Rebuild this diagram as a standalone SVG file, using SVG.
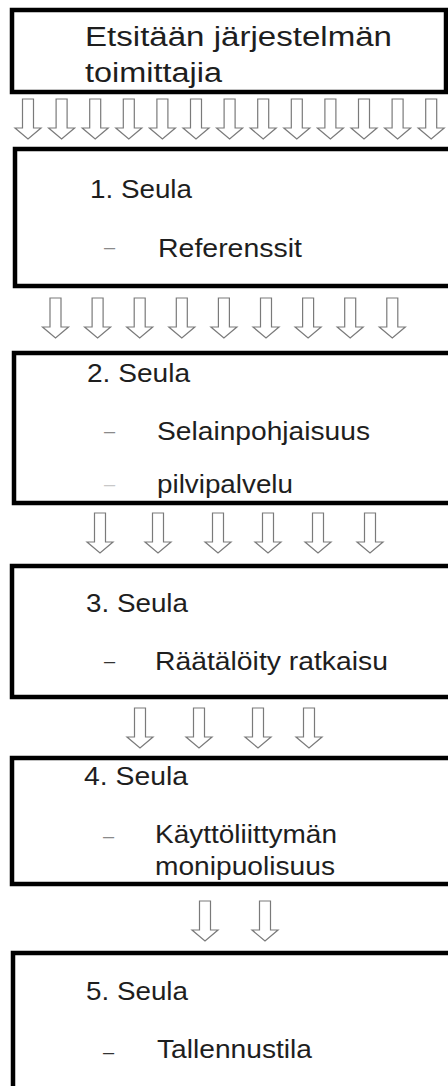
<svg xmlns="http://www.w3.org/2000/svg" xmlns:xlink="http://www.w3.org/1999/xlink" width="448" height="1086" viewBox="0 0 448 1086">
<style>
.box{fill:#fff;stroke:#000;stroke-width:4.5}
.t{font-family:"Liberation Sans",Arial,sans-serif;font-size:26px;fill:#1e1e1e}
.d{font-family:"Liberation Sans",Arial,sans-serif;font-size:20px}
.arr{fill:#fff;stroke:#7a7a7a;stroke-width:1.2;stroke-linejoin:miter}
</style>
<defs>
<path id="a" class="arr" d="M-5.5,0 H5.5 V29 H13 L0,40 L-13,29 H-5.5 Z"/>
</defs>
<rect width="448" height="1086" fill="#fff"/>
<g id="connectors">
<g id="row1">
<use xlink:href="#a" x="28" y="99"/><use xlink:href="#a" x="61.6" y="99"/><use xlink:href="#a" x="95.2" y="99"/><use xlink:href="#a" x="128.8" y="99"/><use xlink:href="#a" x="162.4" y="99"/><use xlink:href="#a" x="196" y="99"/><use xlink:href="#a" x="229.6" y="99"/><use xlink:href="#a" x="263.2" y="99"/><use xlink:href="#a" x="296.8" y="99"/><use xlink:href="#a" x="330.4" y="99"/><use xlink:href="#a" x="364" y="99"/><use xlink:href="#a" x="397.6" y="99"/><use xlink:href="#a" x="431.2" y="99"/>
</g>
<g id="row2">
<use xlink:href="#a" x="55.5" y="298"/><use xlink:href="#a" x="97.6" y="298"/><use xlink:href="#a" x="139.7" y="298"/><use xlink:href="#a" x="181.8" y="298"/><use xlink:href="#a" x="223.9" y="298"/><use xlink:href="#a" x="266" y="298"/><use xlink:href="#a" x="308.1" y="298"/><use xlink:href="#a" x="350.2" y="298"/><use xlink:href="#a" x="392.3" y="298"/>
</g>
<g id="row3">
<use xlink:href="#a" x="100" y="513"/><use xlink:href="#a" x="158" y="513"/><use xlink:href="#a" x="218" y="513"/><use xlink:href="#a" x="268" y="513"/><use xlink:href="#a" x="318" y="513"/><use xlink:href="#a" x="370" y="513"/>
</g>
<g id="row4">
<use xlink:href="#a" x="140" y="708"/><use xlink:href="#a" x="199" y="708"/><use xlink:href="#a" x="258" y="708"/><use xlink:href="#a" x="309" y="708"/>
</g>
<g id="row5">
<use xlink:href="#a" x="205" y="901"/><use xlink:href="#a" x="265" y="901"/>
</g>
</g>
<g id="start">
<rect class="box" x="12" y="10" width="434" height="82"/>
<text class="t" x="85" y="46" textLength="307" lengthAdjust="spacingAndGlyphs" style="font-size:27px">Etsitään  järjestelmän</text>
<text class="t" x="85" y="81.5" textLength="137" lengthAdjust="spacingAndGlyphs" style="font-size:27px">toimittajia</text>
</g>
<g id="seula1">
<rect class="box" x="15" y="149" width="450" height="137"/>
<text class="t" x="90" y="198" textLength="102" lengthAdjust="spacingAndGlyphs">1. Seula</text>
<text class="d" x="104" y="253.5" fill="#8a8a8a">–</text>
<text class="t" x="158" y="257" textLength="144" lengthAdjust="spacingAndGlyphs">Referenssit</text>
</g>
<g id="seula2">
<rect class="box" x="14" y="353" width="450" height="150"/>
<text class="t" x="87" y="382" textLength="103" lengthAdjust="spacingAndGlyphs">2. Seula</text>
<text class="d" x="104" y="437.5" fill="#8a8a8a">–</text>
<text class="t" x="157" y="440" textLength="213" lengthAdjust="spacingAndGlyphs">Selainpohjaisuus</text>
<text class="d" x="104" y="490.5" fill="#c8c8c8">–</text>
<text class="t" x="157" y="493" textLength="136" lengthAdjust="spacingAndGlyphs">pilvipalvelu</text>
</g>
<g id="seula3">
<rect class="box" x="12" y="566" width="450" height="131"/>
<text class="t" x="86" y="612" textLength="102" lengthAdjust="spacingAndGlyphs">3. Seula</text>
<text class="d" x="104" y="667.5" fill="#333">–</text>
<text class="t" x="155" y="670" textLength="233" lengthAdjust="spacingAndGlyphs">Räätälöity ratkaisu</text>
</g>
<g id="seula4">
<rect class="box" x="12" y="758" width="450" height="126"/>
<text class="t" x="84" y="785" textLength="104" lengthAdjust="spacingAndGlyphs">4. Seula</text>
<text class="d" x="103" y="842.5" fill="#8a8a8a">–</text>
<text class="t" x="155" y="843" textLength="182" lengthAdjust="spacingAndGlyphs">Käyttöliittymän</text>
<text class="t" x="155" y="875" textLength="180" lengthAdjust="spacingAndGlyphs">monipuolisuus</text>
</g>
<g id="seula5">
<rect class="box" x="13" y="953" width="450" height="160"/>
<text class="t" x="86" y="1000" textLength="102" lengthAdjust="spacingAndGlyphs">5. Seula</text>
<text class="d" x="103" y="1058.5" fill="#333">–</text>
<text class="t" x="157" y="1058" textLength="155" lengthAdjust="spacingAndGlyphs">Tallennustila</text>
</g>
</svg>
